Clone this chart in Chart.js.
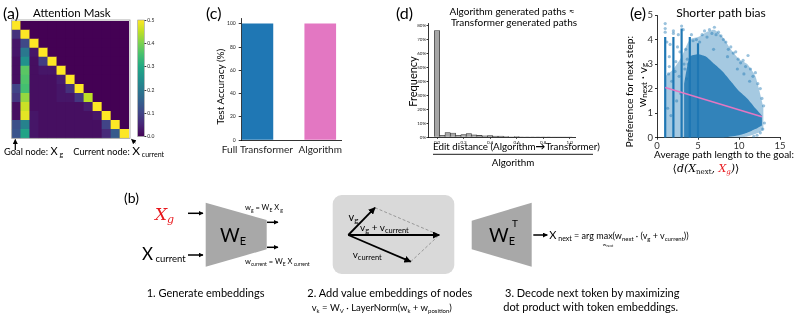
<!DOCTYPE html>
<html>
<head>
<meta charset="utf-8">
<script src="https://cdn.jsdelivr.net/npm/chart.js@4.4.0/dist/chart.umd.min.js"></script>
<style>
  html, body { margin: 0; padding: 0; background: #fff; }
  #fig { position: relative; width: 797px; height: 321px; overflow: hidden; font-family: Lato, "Noto Sans", sans-serif; }
  .box { position: absolute; }
  #overlay { position: absolute; left: 0; top: 0; pointer-events: none; font-family: Lato, "Noto Sans", sans-serif; }
  .serif { font-family: "DejaVu Serif", "Liberation Serif", serif; font-style: italic; }
</style>
</head>
<body>
<div id="fig">
  <div class="box" style="left:0;top:15px;width:135px;height:130px"><canvas id="heat" width="135" height="130"></canvas></div>
  <div class="box" style="left:130px;top:15px;width:30px;height:130px"><canvas id="cbar" width="30" height="130"></canvas></div>
  <div class="box" style="left:190px;top:10px;width:160px;height:150px"><canvas id="acc" width="160" height="150"></canvas></div>
  <div class="box" style="left:395px;top:10px;width:190px;height:140px"><canvas id="hist" width="190" height="140"></canvas></div>
  <div class="box" style="left:600px;top:5px;width:197px;height:152px"><canvas id="bias" width="197" height="152"></canvas></div>

  <svg id="overlay" width="797" height="321">
    <defs>
      <marker id="ah" viewBox="0 0 10 10" refX="9" refY="5" markerWidth="7" markerHeight="7" markerUnits="userSpaceOnUse" orient="auto"><path d="M0,0 L10,5 L0,10 z" fill="#000"/></marker>
      <marker id="ahs" viewBox="0 0 10 10" refX="9" refY="5" markerWidth="5" markerHeight="5" markerUnits="userSpaceOnUse" orient="auto"><path d="M0,0 L10,5 L0,10 z" fill="#000"/></marker>
    </defs>

    <!-- (a) -->
    <text x="3" y="19" font-size="16">(a)</text>
    <text x="33" y="16.5" font-size="11.5">Attention Mask</text>
    <rect x="11.7" y="20" width="118.3" height="118.3" fill="none" stroke="#999" stroke-width="0.8"/>
    <rect x="137.7" y="20" width="6.6" height="116.7" fill="none" stroke="#999" stroke-width="0.6"/>
    <line x1="15.3" y1="150" x2="15.3" y2="139.5" stroke="#000" stroke-width="1.2" marker-end="url(#ahs)"/>
    <line x1="135.5" y1="143" x2="131.5" y2="139.3" stroke="#000" stroke-width="0.8" marker-end="url(#ahs)"/>
    <text x="4" y="155" font-size="9.3">Goal node: <tspan font-size="11">X</tspan><tspan font-size="7" dy="2"> g</tspan></text>
    <text x="73.3" y="155" font-size="9.3">Current node: <tspan font-size="12">X</tspan><tspan font-size="7" dy="2"> current</tspan></text>

    <!-- (c) -->
    <text x="206" y="19" font-size="16">(c)</text>
    <text transform="translate(219.7,86.7) rotate(-90)" text-anchor="middle" dominant-baseline="central" font-size="10">Test Accuracy (%)</text>

    <!-- (d) -->
    <text x="396" y="19" font-size="16">(d)</text>
    <text x="512" y="15" text-anchor="middle" font-size="10">Algorithm generated paths ≈</text>
    <text x="514" y="25.5" text-anchor="middle" font-size="10">Transformer generated paths</text>
    <text transform="translate(412.5,81.5) rotate(-90)" text-anchor="middle" dominant-baseline="central" font-size="11">Frequency</text>
    <text x="433" y="150" font-size="9.8">Edit distance (Algorithm<tspan font-weight="bold">→</tspan>Transformer)</text>
    <line x1="433" y1="154.3" x2="593" y2="154.3" stroke="#000" stroke-width="0.9"/>
    <text x="513" y="166" text-anchor="middle" font-size="9.8">Algorithm</text>

    <!-- (e) -->
    <text x="630" y="19" font-size="16">(e)</text>
    <text x="721" y="16.5" text-anchor="middle" font-size="12">Shorter path bias</text>
    <text transform="translate(629,91.7) rotate(-90)" text-anchor="middle" dominant-baseline="central" font-size="10.3">Preference for next step:</text>
    <text transform="translate(641.5,85) rotate(-90)" text-anchor="middle" dominant-baseline="central" font-size="12">w<tspan font-size="8" dy="2">next</tspan><tspan dy="-2"> · v</tspan><tspan font-size="8" dy="2">g</tspan></text>
    <text x="724" y="158" text-anchor="middle" font-size="10">Average path length to the goal:</text>
    <text x="706" y="172" text-anchor="middle" font-size="11" class="serif"><tspan font-style="normal" font-family="DejaVu Sans">⟨</tspan>d(X<tspan font-size="7" font-style="normal" dy="1.5">next</tspan><tspan dy="-1.5">, </tspan><tspan fill="#e8161b">X<tspan font-size="7" dy="1.5">g</tspan></tspan><tspan dy="-1.5">)</tspan><tspan font-style="normal" font-family="DejaVu Sans">⟩</tspan></text>

    <!-- (b) diagram -->
    <text x="124" y="203" font-size="14">(b)</text>
    <text x="155" y="220" font-size="17" class="serif" fill="#e8161b">X<tspan font-size="11" dy="3">g</tspan></text>
    <text x="142" y="260" font-size="17">X<tspan font-size="9.5" dy="2"> current</tspan></text>
    <line x1="188" y1="213.3" x2="203" y2="213.3" stroke="#000" stroke-width="1.5" marker-end="url(#ahs)"/>
    <line x1="188" y1="255" x2="203" y2="255" stroke="#000" stroke-width="1.5" marker-end="url(#ahs)"/>
    <polygon points="205.7,202.7 266.7,220 266.7,249.3 205.7,266.7" fill="#a8a8a8"/>
    <text x="233" y="242" text-anchor="middle" font-size="19">W<tspan font-size="11" dy="3">E</tspan></text>
    <line x1="267" y1="222.3" x2="278" y2="222.3" stroke="#000" stroke-width="1.5" marker-end="url(#ahs)"/>
    <line x1="267" y1="247.3" x2="278" y2="247.3" stroke="#000" stroke-width="1.5" marker-end="url(#ahs)"/>
    <text x="245" y="210" font-size="7.5">w<tspan font-size="5" dy="1.5">g</tspan><tspan dy="-1.5"> = W</tspan><tspan font-size="5" dy="1.5">E</tspan><tspan dy="-1.5"> X</tspan><tspan font-size="5" dy="1.5"> g</tspan></text>
    <text x="245" y="264" font-size="7.5">w<tspan font-size="5" dy="1.5">current</tspan><tspan dy="-1.5"> = W</tspan><tspan font-size="5" dy="1.5">E</tspan><tspan dy="-1.5"> X</tspan><tspan font-size="5" dy="1.5"> current</tspan></text>
    <text x="146.7" y="297" font-size="11">1. Generate embeddings</text>

    <rect x="332.7" y="195" width="121.6" height="79" rx="9" fill="#d9d9d9"/>
    <line x1="375" y1="207.7" x2="439.3" y2="235" stroke="#999" stroke-width="1" stroke-dasharray="3,2"/>
    <line x1="410.7" y1="261.7" x2="439.3" y2="235" stroke="#999" stroke-width="1" stroke-dasharray="3,2"/>
    <line x1="348.3" y1="235" x2="375" y2="207.7" stroke="#000" stroke-width="1.8" marker-end="url(#ah)"/>
    <line x1="348.3" y1="235" x2="439.3" y2="235" stroke="#000" stroke-width="1.8" marker-end="url(#ah)"/>
    <line x1="348.3" y1="235" x2="410.7" y2="261.7" stroke="#000" stroke-width="1.8" marker-end="url(#ah)"/>
    <text x="348.5" y="221" font-size="11">v<tspan font-size="8" dy="2">g</tspan></text>
    <text x="360" y="231" font-size="10">v<tspan font-size="7.5" dy="2">g</tspan><tspan dy="-2"> + v</tspan><tspan font-size="7.5" dy="2">current</tspan></text>
    <text x="352.7" y="258" font-size="10">v<tspan font-size="7.5" dy="2">current</tspan></text>
    <text x="307.3" y="297" font-size="11">2. Add value embeddings of nodes</text>
    <text x="311.7" y="311" font-size="9.5">v<tspan font-size="6" dy="1.5">k</tspan><tspan dy="-1.5"> = W</tspan><tspan font-size="6" dy="1.5">V</tspan><tspan dy="-1.5"> · LayerNorm(w</tspan><tspan font-size="6" dy="1.5">k</tspan><tspan dy="-1.5"> + w</tspan><tspan font-size="6" dy="1.5">position</tspan><tspan dy="-1.5">)</tspan></text>

    <polygon points="471.7,220.7 531.7,202.7 531.7,266.7 471.7,249.3" fill="#a8a8a8"/>
    <text x="502" y="242" text-anchor="middle" font-size="19">W<tspan font-size="11" dy="3">E</tspan></text>
    <text x="512" y="227" font-size="10">T</text>
    <line x1="533.3" y1="235" x2="547.3" y2="235" stroke="#000" stroke-width="1.5" marker-end="url(#ahs)"/>
    <text x="549.3" y="239" font-size="11">X<tspan font-size="7" dy="1.5"> next</tspan><tspan font-size="9" dy="-1.5"> = arg max(w</tspan><tspan font-size="6" dy="1.5">next</tspan><tspan font-size="9" dy="-1.5"> · (v</tspan><tspan font-size="6" dy="1.5">g</tspan><tspan font-size="9" dy="-1.5"> + v</tspan><tspan font-size="6" dy="1.5">current</tspan><tspan font-size="9" dy="-1.5">))</tspan></text>
    <text x="608" y="246" text-anchor="middle" font-size="4.5">w<tspan font-size="3.5" dy="1">next</tspan></text>
    <text x="505" y="297" font-size="11">3. Decode next token by maximizing</text>
    <text x="503.3" y="311" font-size="11">dot product with token embeddings.</text>
  </svg>
</div>

<script>
// (a) attention weights, row = query position, col = key position (lower triangle)
const attention = [
  [0.50],
  [0.07, 0.50],
  [0.03, 0.11, 0.50],
  [0.03, 0.20, 0.03, 0.50],
  [0.02, 0.25, 0.02, 0.09, 0.50],
  [0.02, 0.37, 0.02, 0.03, 0.03, 0.50],
  [0.02, 0.36, 0.02, 0.02, 0.02, 0.04, 0.50],
  [0.10, 0.35, 0.02, 0.02, 0.02, 0.03, 0.07, 0.50],
  [0.08, 0.42, 0.02, 0.02, 0.02, 0.03, 0.03, 0.08, 0.45],
  [0.02, 0.46, 0.02, 0.02, 0.02, 0.02, 0.02, 0.02, 0.04, 0.50],
  [0.02, 0.48, 0.03, 0.02, 0.02, 0.02, 0.02, 0.02, 0.02, 0.03, 0.50],
  [0.12, 0.22, 0.03, 0.02, 0.02, 0.02, 0.02, 0.02, 0.02, 0.02, 0.10, 0.50],
  [0.13, 0.29, 0.03, 0.02, 0.02, 0.02, 0.02, 0.02, 0.02, 0.02, 0.06, 0.14, 0.50]
];
const colorbarTicks = [0, 0.1, 0.2, 0.3, 0.4, 0.5];

// (c)
const accLabels = ["Full Transformer", "Algorithm"];
const accValues = [100, 99.9];
const accColors = ["#1f77b4", "#e377c2"];
const accTicks = [0, 20, 40, 60, 80, 100];

// (d) edit distance histogram
const editBins = [0, 0.04, 0.08, 0.12, 0.16, 0.20, 0.24, 0.28, 0.32, 0.36, 0.40, 0.44, 0.48,
                  0.52, 0.56, 0.60, 0.64, 0.68, 0.72, 0.76, 0.80, 0.84, 0.88, 0.92, 0.96, 1.00];
const editFreq = [76.6, 1.5, 3.3, 3.1, 1.5, 2.0, 2.6, 1.7, 1.4, 1.0, 1.2, 0.8, 0.8,
                  0.5, 0.4, 0.5, 0.3, 0.3, 0.3, 0.2, 0.2, 0.2, 0.1, 0.1, 0.1, 0.1];
const freqTicks = [0, 10, 20, 30, 40, 50, 60, 70, 80];
const editTicks = [0, 0.2, 0.4, 0.6, 0.8, 1.0];

// (e) preference vs path length
const cloudX    = [1, 2, 3, 4, 5, 6, 7, 8, 9, 10, 11, 12, 13];
const cloudHigh = [2.5, 2.8, 3.3, 4.0, 4.1, 4.3, 4.4, 4.1, 3.6, 3.2, 3.0, 2.5, 1.2];
const cloudLow  = [0, 0, 0, 0, 0, 0, 0, 0, 0, 0, 0.05, 0.15, 0.3];
const coreX     = [3.3, 4, 5, 6, 7, 8, 9, 10, 11, 12, 12.8];
const coreHigh  = [2.2, 3.3, 3.4, 3.3, 3.0, 2.7, 2.3, 1.9, 1.6, 1.2, 0.9];
const coreLow   = [0, 0, 0, 0, 0, 0, 0.05, 0.1, 0.2, 0.35, 0.5];
const stripeX   = [1, 2, 3, 4, 5];
const stripeTop = [4.1, 4.1, 4.45, 4.1, 3.85];
const fringePoints = [
  [1.0, 4.65], [1.0, 4.45], [1.0, 4.3], [1.2, 3.9], [1.5, 3.3], [1.5, 2.9], [1.6, 3.8],
  [2.0, 4.35], [2.0, 4.25], [2.3, 3.1], [2.5, 3.7], [2.6, 4.2], [2.8, 3.5], [3.0, 4.55],
  [3.2, 4.4], [3.3, 3.0], [3.5, 3.6], [3.7, 3.2], [4.2, 4.2], [4.4, 3.95], [4.8, 4.0],
  [5.2, 3.9], [5.5, 4.2], [5.8, 4.35], [6.1, 4.1], [6.4, 4.4], [6.7, 4.25], [7.0, 4.5],
  [7.2, 4.2], [7.5, 4.3], [7.8, 4.15], [8.1, 4.0], [8.4, 3.9], [8.7, 3.6], [9.0, 3.7],
  [9.3, 3.45], [9.6, 3.5], [9.9, 3.2], [10.2, 3.05], [10.5, 3.15], [10.8, 2.9], [11.1, 3.35],
  [11.4, 2.8], [11.7, 2.5], [12.0, 2.65], [12.3, 2.2], [12.6, 2.0], [12.8, 1.6], [13.0, 1.3],
  [13.1, 0.6], [12.9, 0.35], [12.6, 0.2], [12.2, 0.1], [11.8, 0.05], [1.4, 2.6], [1.8, 2.3],
  [2.2, 2.7], [2.7, 2.5], [3.4, 2.8], [3.8, 3.0], [1.3, 1.2], [1.7, 0.9], [2.4, 1.5],
  [2.9, 1.8], [3.6, 2.4], [6.9, 3.6], [8.6, 3.3], [9.8, 2.8], [10.6, 2.6], [11.3, 2.3]
];
const regX = [1, 12.8];
const regY = [2.05, 0.85];
const biasXTicks = [0, 5, 10, 15];
const biasYTicks = [0, 1, 2, 3, 4, 5];

Chart.defaults.font.family = "Lato, 'Noto Sans', sans-serif";
Chart.defaults.color = "#222";
Chart.defaults.animation = false;
Chart.defaults.responsive = false;
Chart.defaults.plugins.legend.display = false;
Chart.defaults.plugins.tooltip.enabled = false;

const VIR = ["#440154", "#482475", "#414487", "#355f8d", "#2a788e", "#21918c",
             "#22a884", "#44bf70", "#7ad151", "#bddf26", "#fde725"];
function hexRgb(h) { return [1, 3, 5].map(i => parseInt(h.slice(i, i + 2), 16)); }
function viridis(t) {
  t = Math.max(0, Math.min(1, t));
  const p = t * 10, i = Math.min(9, Math.floor(p)), f = p - i;
  const a = hexRgb(VIR[i]), b = hexRgb(VIR[i + 1]);
  const c = a.map((v, k) => Math.round(v + (b[k] - v) * f));
  return `rgb(${c[0]},${c[1]},${c[2]})`;
}
const fixW = w => s => { s.width = w; };
const fixH = h => s => { s.height = h; };
const setTicks = arr => s => { s.ticks = arr.map(v => ({ value: v })); };
const spine = { color: "#000", width: 0.8 };

// heatmap: one square point per cell, sized from the chart area
const n = attention.length;
const cells = [];
for (let r = 0; r < n; r++) for (let c = 0; c < n; c++) cells.push({ x: c, y: r, v: attention[r][c] || 0 });
new Chart(document.getElementById("heat"), {
  type: "scatter",
  data: {
    datasets: [{
      data: cells,
      pointStyle: "rect",
      pointBackgroundColor: ctx => viridis((ctx.raw ? ctx.raw.v : 0) / 0.5),
      pointBorderWidth: 0,
      pointRadius: ctx => {
        const a = ctx.chart.chartArea;
        return a ? (a.right - a.left) / n / Math.SQRT2 + 0.4 : 6;
      }
    }]
  },
  options: {
    layout: { padding: { left: 11.7, right: 5, top: 5, bottom: 6.7 } },
    scales: {
      x: { display: false, min: -0.5, max: n - 0.5 },
      y: { display: false, reverse: true, min: -0.5, max: n - 0.5 }
    }
  }
});

// colorbar
new Chart(document.getElementById("cbar"), {
  type: "bar",
  data: {
    labels: [""],
    datasets: [{
      data: [[0, 0.5]], barPercentage: 1, categoryPercentage: 1,
      backgroundColor: ctx => {
        const area = ctx.chart.chartArea;
        if (!area) return VIR[0];
        const g = ctx.chart.ctx.createLinearGradient(0, area.bottom, 0, area.top);
        VIR.forEach((c, i) => g.addColorStop(i / 10, c));
        return g;
      }
    }]
  },
  options: {
    layout: { padding: { left: 7.7, right: 0, top: 5, bottom: 8.3 } },
    scales: {
      x: { display: false },
      y: {
        position: "right", min: 0, max: 0.5, afterFit: fixW(15.7), afterBuildTicks: setTicks(colorbarTicks),
        ticks: { font: { size: 5 }, padding: 1, callback: v => v.toFixed(1) },
        grid: { drawOnChartArea: false, tickLength: 2, color: "#333" }, border: { display: false }
      }
    }
  }
});

// (c) test accuracy
new Chart(document.getElementById("acc"), {
  type: "bar",
  data: { datasets: [{ data: accValues.map((v, i) => ({ x: i, y: v })), backgroundColor: accColors, barThickness: 31 }] },
  options: {
    layout: { padding: { left: 0, right: 9, top: 8, bottom: 0 } },
    scales: {
      x: {
        type: "linear", min: -0.25, max: 1.33, offset: false, afterFit: fixH(20),
        afterBuildTicks: setTicks(accLabels.map((_, i) => i)),
        ticks: { callback: v => accLabels[v], font: { size: 10 }, padding: 4, maxRotation: 0, autoSkip: false },
        grid: { offset: false, drawOnChartArea: false, drawTicks: false }, border: spine
      },
      y: {
        min: 0, max: 105, afterFit: fixW(51.7), afterBuildTicks: setTicks(accTicks),
        ticks: { font: { size: 5 }, padding: 3 },
        grid: { drawOnChartArea: false, tickLength: 3, color: "#333" }, border: spine
      }
    }
  }
});

// (d) edit distance histogram
new Chart(document.getElementById("hist"), {
  type: "bar",
  data: {
    datasets: [{
      data: editBins.map((x, i) => ({ x: x, y: editFreq[i] })),
      backgroundColor: "#a6a6a6", borderColor: "#333", borderWidth: 0.7,
      barPercentage: 1, categoryPercentage: 1
    }]
  },
  options: {
    layout: { padding: { left: 0, right: 10, top: 13, bottom: 0 } },
    scales: {
      x: {
        type: "linear", min: -0.068, max: 1.04, offset: false, afterFit: fixH(12.7),
        afterBuildTicks: setTicks(editTicks),
        ticks: { font: { size: 4.5 }, padding: 1, callback: v => v.toFixed(1) },
        grid: { offset: false, drawOnChartArea: false, tickLength: 1.5, color: "#333" }, border: spine
      },
      y: {
        min: 0, max: 82, afterFit: fixW(33), afterBuildTicks: setTicks(freqTicks),
        ticks: { font: { size: 4.5 }, padding: 0.5, callback: v => v + "%" },
        grid: { drawOnChartArea: false, tickLength: 1.5, color: "#333" }, border: spine
      }
    }
  }
});

// (e) shorter path bias
const blue = "#1f77b4";
const pts = (xs, ys) => xs.map((x, i) => ({ x: x, y: ys[i] }));
const bandDs = (xs, hi, lo, color, order) => [
  { type: "line", data: pts(xs, hi), fill: "+1", backgroundColor: color, borderWidth: 0, pointRadius: 0, tension: 0.2, order: order },
  { type: "line", data: pts(xs, lo), fill: false, borderWidth: 0, pointRadius: 0, tension: 0.2, order: order }
];
new Chart(document.getElementById("bias"), {
  type: "scatter",
  data: {
    datasets: [
      ...bandDs(cloudX, cloudHigh, cloudLow, "rgba(31,119,180,0.4)", 5),
      ...bandDs(coreX, coreHigh, coreLow, "rgba(31,119,180,0.85)", 4),
      ...stripeX.map((x, i) => ({
        type: "line", data: [{ x: x, y: 0 }, { x: x, y: stripeTop[i] }],
        borderColor: blue, borderWidth: 2.2, pointRadius: 0, order: 3
      })),
      {
        type: "scatter", data: fringePoints.map(p => ({ x: p[0], y: p[1] })),
        pointBackgroundColor: "rgba(31,119,180,0.45)", pointBorderWidth: 0, pointRadius: 1.6, order: 2
      },
      {
        type: "line", data: pts(regX, regY), borderColor: "#e377c2", borderWidth: 1.6,
        pointRadius: 0, fill: false, order: 1
      }
    ]
  },
  options: {
    layout: { padding: { left: 0, right: 17, top: 10, bottom: 7 } },
    scales: {
      x: {
        type: "linear", min: 0, max: 15, offset: false, afterFit: fixH(12.3), afterBuildTicks: setTicks(biasXTicks),
        ticks: { font: { size: 9.5 }, padding: 1, color: "#333" },
        grid: { drawOnChartArea: false, tickLength: 2, color: "#333" }, border: spine
      },
      y: {
        min: 0, max: 5, afterFit: fixW(57), afterBuildTicks: setTicks(biasYTicks),
        ticks: { font: { size: 9.5 }, padding: 2, color: "#333" },
        grid: { drawOnChartArea: false, tickLength: 2, color: "#333" }, border: spine
      }
    }
  }
});
</script>
</body>
</html>
